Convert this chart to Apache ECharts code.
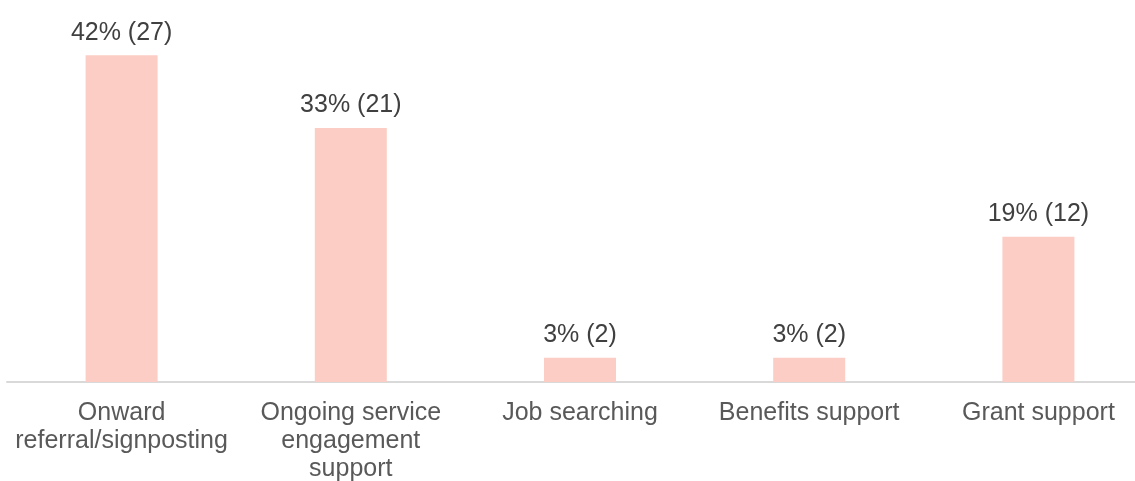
<!DOCTYPE html>
<html>
<head>
<meta charset="utf-8">
<script src="https://cdn.jsdelivr.net/npm/echarts@6/dist/echarts.min.js"></script>
<style>
  html, body { margin: 0; padding: 0; background: #ffffff; }
  #chart { width: 1135px; height: 481px; }
</style>
</head>
<body>
<div id="chart"></div>
<script>
// Support types offered and how many respondents selected each
const categories = [
  'Onward\nreferral/signposting',
  'Ongoing service\nengagement\nsupport',
  'Job searching',
  'Benefits support',
  'Grant support'
];
const counts = [27, 21, 2, 2, 12];
const percents = [42, 33, 3, 3, 19];

const chart = echarts.init(document.getElementById('chart'), null, { renderer: 'canvas' });

chart.setOption({
  animation: false,
  backgroundColor: '#ffffff',
  grid: {
    left: 7, top: 19, right: -18, height: 363,
    containLabel: false,
    outerBoundsMode: 'none'
  },
  xAxis: {
    type: 'category',
    data: categories,
    axisLine: { show: true, lineStyle: { color: '#d9d9d9', width: 2 } },
    axisTick: { show: false },
    axisLabel: {
      interval: 0,
      color: '#595959',
      fontFamily: 'Liberation Sans, Arial, sans-serif',
      fontSize: 25,
      lineHeight: 28,
      margin: 17
    }
  },
  yAxis: {
    type: 'value',
    min: 0,
    max: 30,
    show: false,
    splitLine: { show: false }
  },
  series: [{
    type: 'bar',
    data: counts,
    barWidth: 72,
    itemStyle: { color: '#fccdc5' },
    label: {
      show: true,
      position: 'top',
      distance: 10,
      color: '#404040',
      fontFamily: 'Liberation Sans, Arial, sans-serif',
      fontSize: 25,
      formatter: (p) => percents[p.dataIndex] + '% (' + counts[p.dataIndex] + ')'
    }
  }]
});
</script>
</body>
</html>
